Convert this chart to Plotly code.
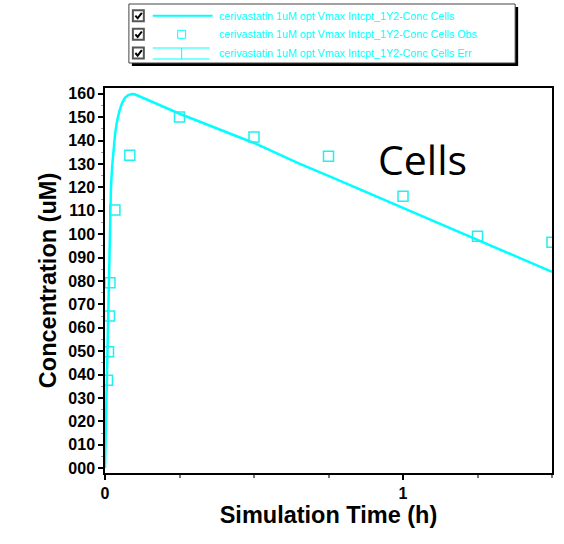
import plotly.graph_objects as go

# Simulated cell concentration profile (uM) over time (h)
sim_time = [0.0, 0.002, 0.004, 0.006, 0.008, 0.010, 0.012, 0.014, 0.017, 0.020, 0.024,
            0.028, 0.034, 0.040, 0.048, 0.057, 0.067, 0.078, 0.090, 0.100, 0.115,
            0.25, 0.50, 0.652, 0.75, 1.00, 1.256, 1.50]
sim_conc = [0.0, 12.0, 26.0, 40.0, 55.0, 70.0, 84.0, 95.0, 110.0, 120.0, 129.0,
            136.0, 143.0, 148.0, 152.5, 156.0, 158.3, 159.5, 159.9, 159.8, 159.0,
            151.5, 139.0, 130.2, 124.9, 111.2, 97.4, 83.9]

# Observed cell concentrations
obs_time = [0.0083, 0.0117, 0.0150, 0.0167, 0.0333, 0.0833, 0.25, 0.50, 0.75, 1.00, 1.25, 1.50]
obs_conc = [37.6, 49.7, 65.0, 79.2, 110.3, 133.8, 150.1, 141.6, 133.3, 116.2, 99.1, 96.5]

y_ticks = list(range(0, 161, 10))
y_ticktext = [f"{v:03d}" for v in y_ticks]
x_ticks = [0, 1]
x_ticktext = ["0", "1"]

legend_labels = [
    "cerivastatin 1uM opt Vmax Intcpt_1Y2-Conc Cells",
    "cerivastatin 1uM opt Vmax Intcpt_1Y2-Conc Cells Obs",
    "cerivastatin 1uM opt Vmax Intcpt_1Y2-Conc Cells Err",
]

CYAN = "#00FFFF"
W, H = 564, 544
ML, MR, MT, MB = 105, 10, 88, 71
PW, PH = W - ML - MR, H - MT - MB


def px(x):
    """Pixel column -> paper x."""
    return (x - ML) / PW


def py(y):
    """Pixel row -> paper y."""
    return (H - MB - y) / PH


fig = go.Figure()
fig.add_trace(go.Scatter(x=sim_time, y=sim_conc, mode="lines",
                         line=dict(color=CYAN, width=2.5), showlegend=False))
fig.add_trace(go.Scatter(x=obs_time, y=obs_conc, mode="markers",
                         marker=dict(symbol="square-open", size=10, color="#20F0F0",
                                     line=dict(width=1.5, color="#20F0F0")),
                         showlegend=False))

shapes = []
annotations = []

# Legend panel with drop shadow
lx0, lx1, ly0, ly1 = 129, 517, 4, 63
shapes.append(dict(type="rect", xref="paper", yref="paper",
                   x0=px(lx0 + 3), x1=px(lx1 + 3), y0=py(ly0 + 3), y1=py(ly1 + 3),
                   fillcolor="black", line=dict(width=0), layer="above"))
shapes.append(dict(type="rect", xref="paper", yref="paper",
                   x0=px(lx0), x1=px(lx1), y0=py(ly0), y1=py(ly1),
                   fillcolor="white", line=dict(color="#444444", width=1), layer="above"))

rows = [15.7, 34.3, 53.0]
for i, (ry, label) in enumerate(zip(rows, legend_labels)):
    # checkbox
    shapes.append(dict(type="rect", xref="paper", yref="paper",
                       x0=px(133), x1=px(144), y0=py(ry - 5.5), y1=py(ry + 5.5),
                       fillcolor="white", line=dict(color="#555555", width=2), layer="above"))
    path = (f"M {px(135.5)},{py(ry)} L {px(137.8)},{py(ry + 2.6)} "
            f"L {px(142)},{py(ry - 2.8)}")
    shapes.append(dict(type="path", xref="paper", yref="paper", path=path,
                       line=dict(color="black", width=2), layer="above"))
    # sample glyph
    if i == 0:
        shapes.append(dict(type="line", xref="paper", yref="paper",
                           x0=px(153), x1=px(213), y0=py(ry), y1=py(ry),
                           line=dict(color=CYAN, width=2), layer="above"))
    elif i == 1:
        shapes.append(dict(type="rect", xref="paper", yref="paper",
                           x0=px(178), x1=px(186), y0=py(ry - 4), y1=py(ry + 4),
                           line=dict(color=CYAN, width=1), layer="above"))
    else:
        for yy in (ry - 5, ry + 6):
            shapes.append(dict(type="line", xref="paper", yref="paper",
                               x0=px(153), x1=px(210), y0=py(yy), y1=py(yy),
                               line=dict(color=CYAN, width=1), layer="above"))
        shapes.append(dict(type="line", xref="paper", yref="paper",
                           x0=px(182), x1=px(182), y0=py(ry - 5), y1=py(ry + 6),
                           line=dict(color=CYAN, width=1), layer="above"))
    annotations.append(dict(text=label, xref="paper", yref="paper", x=px(218), y=py(ry),
                            xanchor="left", yanchor="middle", showarrow=False,
                            font=dict(family="Liberation Sans, Arial", size=10.7, color=CYAN)))

annotations.append(dict(text="Cells", xref="paper", yref="paper", x=px(424), y=py(159),
                        xanchor="center", yanchor="middle", showarrow=False,
                        font=dict(family="Open Sans, Lato", size=41, color="black")))

axis_font = dict(family="Liberation Sans, Arial", size=16, color="black", weight="bold")
title_font = dict(family="Liberation Sans, Arial", size=23.5, color="black", weight="bold")

fig.update_layout(
    width=W, height=H, autosize=False,
    margin=dict(l=ML, r=MR, t=MT, b=MB, pad=0),
    paper_bgcolor="white", plot_bgcolor="white",
    shapes=shapes, annotations=annotations,
    xaxis=dict(range=[0, 1.5], tickvals=x_ticks, ticktext=x_ticktext,
               showgrid=False, zeroline=False, showline=True, mirror=True,
               linecolor="black", linewidth=1.5, ticks="outside", ticklen=5,
               tickwidth=2, tickcolor="black", tickfont=axis_font,
               minor=dict(dtick=0.25, ticks="outside", ticklen=3, tickcolor="#777777",
                          tickwidth=1.5, showgrid=False),
               title=dict(text="Simulation Time (h)", font=title_font, standoff=3)),
    yaxis=dict(range=[-2.1, 162.5], tickvals=y_ticks, ticktext=y_ticktext,
               showgrid=False, zeroline=False, showline=True, mirror=True,
               linecolor="black", linewidth=1.5, ticks="outside", ticklen=5,
               tickwidth=2, tickcolor="black", tickfont=axis_font,
               minor=dict(dtick=5, ticks="outside", ticklen=2, tickcolor="#999999",
                          tickwidth=1, showgrid=False),
               title=dict(text="Concentration (uM)", font=title_font, standoff=5)),
)

fig.write_html("out.html")
